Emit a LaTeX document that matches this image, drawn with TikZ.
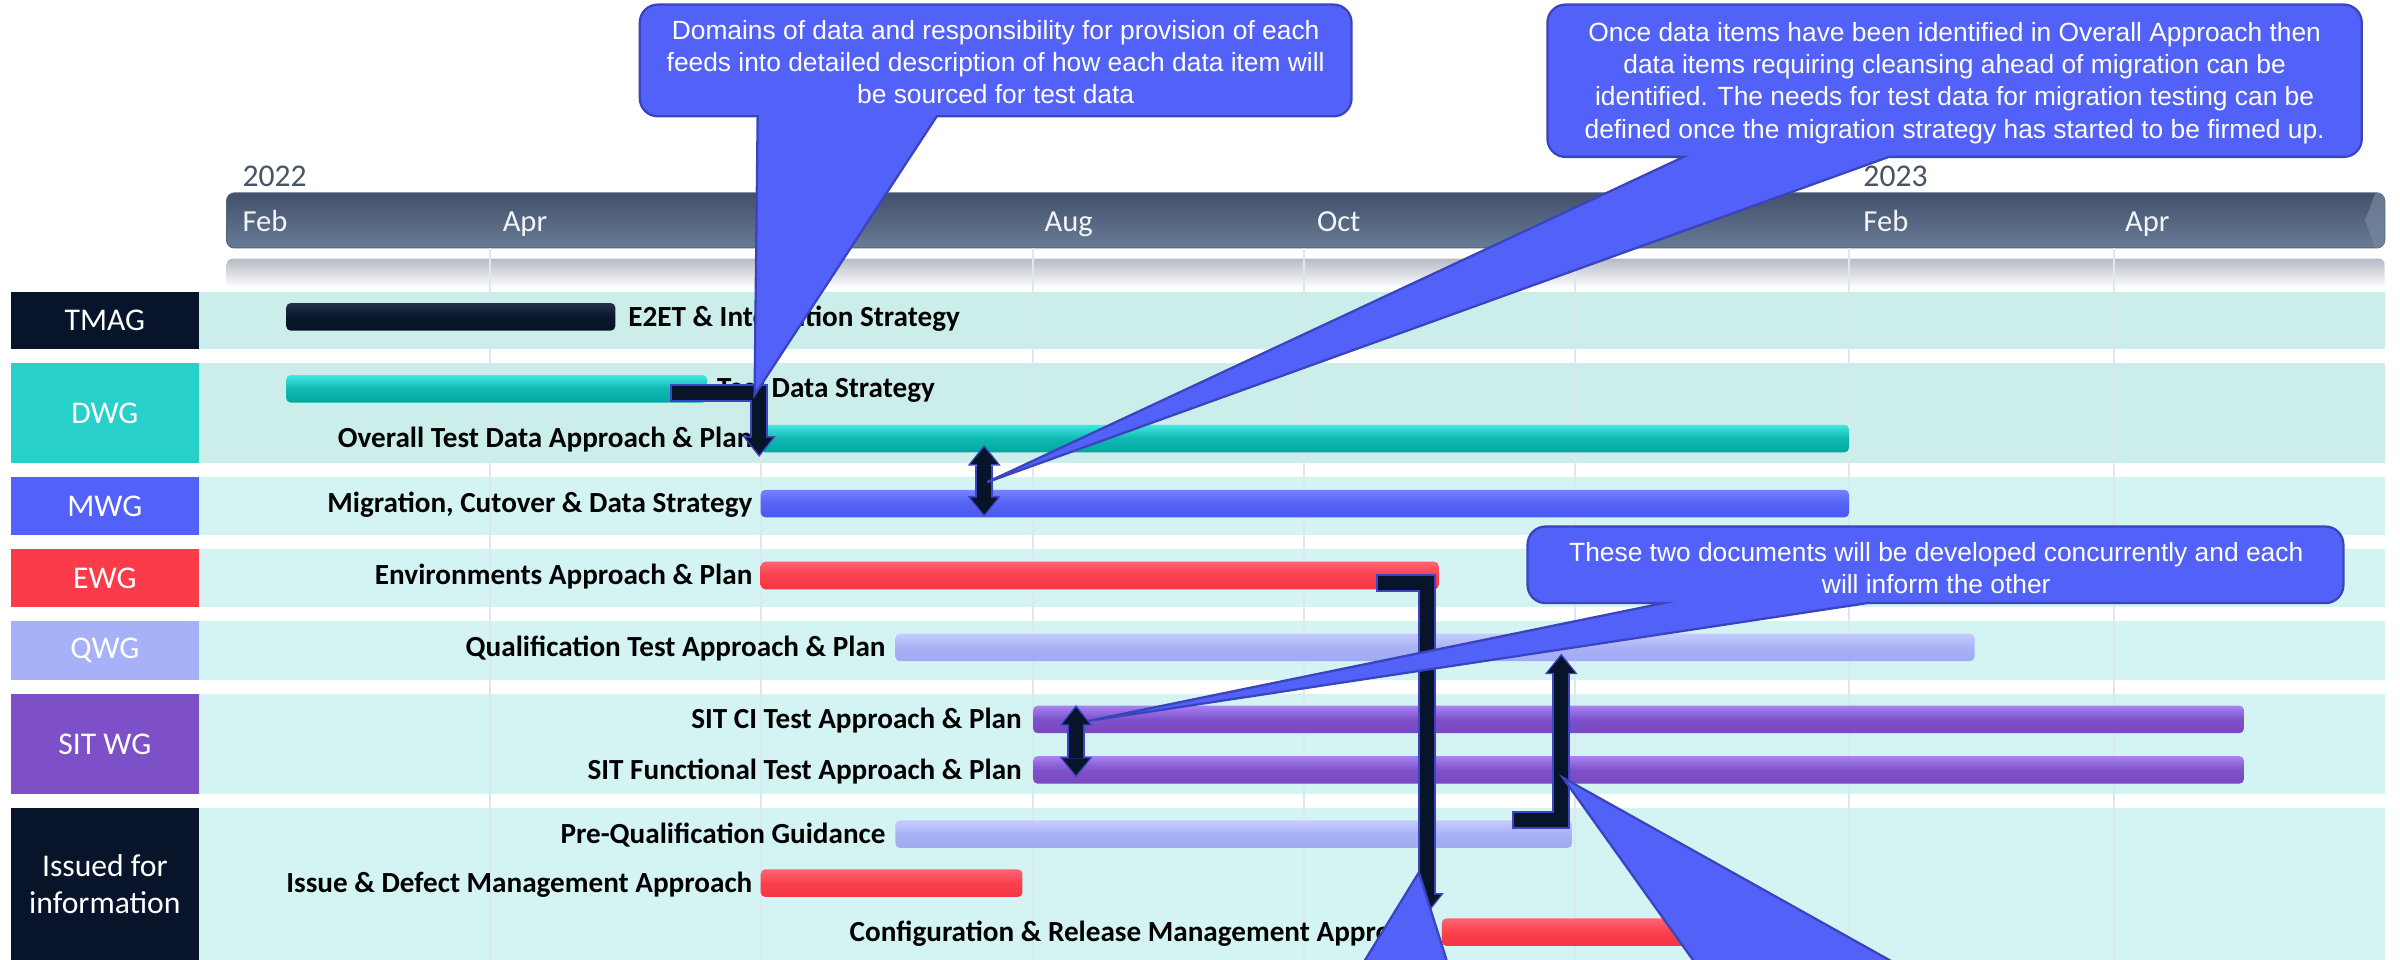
\documentclass[tikz,border=0pt]{standalone}
\usepackage{fontspec}
\setmainfont{Carlito}
\newfontfamily\callfont{Liberation Sans}
\usetikzlibrary{arrows.meta,calc}
\newcommand\uu{0.0153061cm}
\definecolor{navy}{HTML}{08142A}
\definecolor{connb}{HTML}{3C46C4}
\definecolor{callc}{HTML}{5262F9}
\definecolor{callb}{HTML}{3A44BE}
\definecolor{rowA}{HTML}{CBEEEB}
\definecolor{rowB}{HTML}{D3F4F2}
\definecolor{gridc}{HTML}{DCE8EE}
\definecolor{tealc}{HTML}{28D0CA}
\definecolor{bluec}{HTML}{5262F8}
\definecolor{redc}{HTML}{FB3B49}
\definecolor{lavc}{HTML}{A7B1F7}
\definecolor{purc}{HTML}{7D50C8}
\definecolor{hdrtop}{HTML}{43506A}
\definecolor{hdrbot}{HTML}{687B96}
\definecolor{hdredge}{HTML}{56637A}
\definecolor{hdrend}{HTML}{77889F}
\definecolor{stripc}{HTML}{B5BBC6}
\definecolor{yearc}{HTML}{475466}
\definecolor{monthc}{HTML}{F2F5F8}
\definecolor{tealT}{HTML}{40EAE3}\definecolor{tealM}{HTML}{0FB9B1}\definecolor{tealB}{HTML}{00A89F}
\definecolor{blueT}{HTML}{7482FF}\definecolor{blueM}{HTML}{5563F6}\definecolor{blueB}{HTML}{4A58EE}
\definecolor{redT}{HTML}{FF6472}\definecolor{redM}{HTML}{FA3F4D}\definecolor{redB}{HTML}{F33644}
\definecolor{lavT}{HTML}{C6CCFF}\definecolor{lavM}{HTML}{A8B1F5}\definecolor{lavB}{HTML}{A0AAEE}
\definecolor{purT}{HTML}{A882F2}\definecolor{purM}{HTML}{7E51CA}\definecolor{purB}{HTML}{7649C0}
\definecolor{navyT}{HTML}{243046}\definecolor{navyM}{HTML}{0A162C}\definecolor{navyB}{HTML}{061224}
\newcommand\lblfont{\fontsize{8.3}{9.8}\selectfont\bfseries}
\newcommand\grpfont{\fontsize{9}{10.7}\selectfont}
\newcommand\monthfont{\fontsize{8.7}{10}\selectfont}
\newcommand\yearfont{\fontsize{9}{10}\selectfont}
\newcommand\calltextfont{\callfont\fontsize{7.5}{9.15}\selectfont}
\newcommand\callbox[8]{%
 \draw[callout] (#1,{(#3+#4)/2}) [rounded corners=0.18cm] -- (#1,#3) -- (#2,#3) -- (#2,#4) -- ({#6+15},#4) [sharp corners] -- (#6,#4) -- (#7,#8) -- (#5,#4) -- ({#5-15},#4) [rounded corners=0.18cm] -- (#1,#4) -- cycle;}
\tikzset{
  lbl/.style={font=\lblfont, inner sep=0, text=black},
  lblL/.style={lbl, anchor=base east},
  lblR/.style={lbl, anchor=base west},
  grp/.style={text=white, font=\grpfont, inner sep=0, align=center, minimum width={123*\uu}},
  bar/.style={inner sep=0, outer sep=0, minimum height={18*\uu}, rounded corners=0.045cm, anchor=west},
  tealbar/.style={bar, top color=tealT, bottom color=tealB, middle color=tealM},
  bluebar/.style={bar, top color=blueT, bottom color=blueB, middle color=blueM},
  redbar/.style={bar, top color=redT, bottom color=redB, middle color=redM},
  lavbar/.style={bar, top color=lavT, bottom color=lavB, middle color=lavM},
  purbar/.style={bar, top color=purT, bottom color=purB, middle color=purM},
  navybar/.style={bar, top color=navyT, bottom color=navyB, middle color=navyM},
  month/.style={text=monthc, font=\monthfont, inner sep=0, anchor=base west},
  year/.style={text=yearc, font=\yearfont, inner sep=0, anchor=base west},
  connO/.style={draw=connb, line width=0.1776cm, line join=miter},
  connI/.style={draw=navy, line width=0.1378cm, line join=miter},
  tipO/.style={-{Triangle[width=0.329cm,length=0.2066cm,line width=0pt]}},
  tipI/.style={-{Triangle[width=0.2755cm,length=0.168cm,line width=0pt]}},
  dtipO/.style={{Triangle[width=0.329cm,length=0.2066cm,line width=0pt]}-{Triangle[width=0.329cm,length=0.2066cm,line width=0pt]}},
  dtipI/.style={{Triangle[width=0.2755cm,length=0.168cm,line width=0pt]}-{Triangle[width=0.2755cm,length=0.168cm,line width=0pt]}},
  callout/.style={fill=callc, draw=callb, line width=0.65pt, line join=miter},
  calltext/.style={text=white, font=\calltextfont, align=center, inner sep=0},
}
\begin{document}
\begin{tikzpicture}[x=\uu, y=-\uu]
\useasboundingbox (0,0) rectangle (1568,627);
\clip (0,0) rectangle (1568,627);
\fill[white] (0,0) rectangle (1568,627);

% ---------- header ----------
\node[year] (y22) at (158,122) {2022};
\node[year] (y23) at (1217,122) {2023};
\shade[top color=hdrtop, bottom color=hdrbot, draw=hdredge, line width=0.3pt, rounded corners=0.08cm] (148,126) rectangle (1558,162);
\begin{scope}
  \clip[rounded corners=0.08cm] (148,126) rectangle (1558,162);
  \fill[hdrend, opacity=0.7] (1552,126) -- (1545,144) -- (1552,162) -- (1560,162) -- (1560,126) -- cycle;
\end{scope}
\node[month] (m1) at (158,151.5) {Feb};
\node[month] (m2) at (328,151.5) {Apr};
\node[month] (m3) at (682,151.5) {Aug};
\node[month] (m4) at (860,151.5) {Oct};
\node[month] (m5) at (1217,151.5) {Feb};
\node[month] (m6) at (1388,151.5) {Apr};
\shade[top color=stripc, bottom color=white, rounded corners=0.06cm] (148,169) rectangle (1558,188);

% ---------- rows ----------
\fill[rowA] (7,190.5) rectangle (1558,228);
\fill[rowA] (7,237) rectangle (1558,302.5);
\fill[rowB] (7,311.5) rectangle (1558,349.5);
\fill[rowB] (7,359) rectangle (1558,396.5);
\fill[rowB] (7,406) rectangle (1558,444);
\fill[rowB] (7,453.5) rectangle (1558,519);
\fill[rowB] (7,528) rectangle (1558,627);
\foreach \gx in {320,497.5,675,852,1029,1208,1381}
  \draw[gridc, line width=0.02cm] (\gx,162) -- (\gx,627);

% ---------- group boxes ----------
\node[grp, fill=navy,  minimum height={37.5*\uu}] (gTMAG) at (68.5,209.25) {TMAG};
\node[grp, fill=tealc, minimum height={65.5*\uu}] (gDWG)  at (68.5,269.75) {DWG};
\node[grp, fill=bluec, minimum height={38*\uu}]   (gMWG)  at (68.5,330.5) {MWG};
\node[grp, fill=redc,  minimum height={37.5*\uu}] (gEWG)  at (68.5,377.75) {EWG};
\node[grp, fill=lavc,  minimum height={38*\uu}]   (gQWG)  at (68.5,425) {QWG};
\node[grp, fill=purc,  minimum height={65.5*\uu}] (gSIT)  at (68.5,486.25) {SIT WG};
\node[grp, fill=navy,  minimum height={99*\uu}]   (gISS)  at (68.5,577.5) {Issued for\\information};

% ---------- bars ----------
\node[navybar, minimum width={215*\uu}] (e2)    at (187,207) {};
\node[tealbar, minimum width={275*\uu}] (tds)   at (187,254) {};
\node[tealbar, minimum width={711*\uu}] (ov)    at (497,286.5) {};
\node[bluebar, minimum width={711*\uu}] (mig)   at (497,329) {};
\node[redbar,  minimum width={443*\uu}] (env)   at (497,376) {};
\node[lavbar,  minimum width={705*\uu}] (qual)  at (585,423) {};
\node[purbar,  minimum width={791*\uu}] (sitci) at (675,470) {};
\node[purbar,  minimum width={791*\uu}] (sitfn) at (675,503) {};
\node[lavbar,  minimum width={442*\uu}] (pq)    at (585,545) {};
\node[redbar,  minimum width={171*\uu}] (idm)   at (497,577) {};
\node[redbar,  minimum width={220*\uu}] (cfg)   at (942,609) {};

% ---------- labels ----------
\node[lblR] (tE2)  at ($(e2.east)+(8,6)$) {E2ET \& Integration Strategy};
\node[lblR] (tTDS) at ($(tds.east)+(6,6)$) {Test Data Strategy};
\node[lblL] (tOV)  at ($(ov.west)+(-5,6)$) {Overall Test Data Approach \& Plan};
\node[lblL] (tMIG) at ($(mig.west)+(-5,6)$) {Migration, Cutover \& Data Strategy};
\node[lblL] (tENV) at ($(env.west)+(-5,6)$) {Environments Approach \& Plan};
\node[lblL] (tQ)   at ($(qual.west)+(-6,6)$) {Qualification Test Approach \& Plan};
\node[lblL] (tSC)  at ($(sitci.west)+(-7,6)$) {SIT CI Test Approach \& Plan};
\node[lblL] (tSF)  at ($(sitfn.west)+(-7,6)$) {SIT Functional Test Approach \& Plan};
\node[lblL] (tPQ)  at ($(pq.west)+(-6,6)$) {Pre-Qualification Guidance};
\node[lblL] (tIDM) at ($(idm.west)+(-5,6)$) {Issue \& Defect Management Approach};
\node[lblL] (tCFG) at ($(cfg.west)+(-5,6)$) {Configuration \& Release Management Approach};

% ---------- connectors ----------
\coordinate (c1s) at ($(tds.east)+(-23,3)$);
\coordinate (c1t) at ($(ov.west)+(-1,12)$);
\draw[connO, tipO, shorten <=-0.02cm] (c1s) -| (c1t);
\draw[connI, tipI, shorten >=0.0245cm] (c1s) -| (c1t);

\coordinate (c2a) at ($(ov.west)+(146,4.2)$);
\coordinate (c2b) at ($(mig.west)+(146,8.7)$);
\draw[connO, dtipO] (c2a) -- (c2b);
\draw[connI, dtipI, shorten <=0.0245cm, shorten >=0.0245cm] (c2a) -- (c2b);

\coordinate (c3s) at ($(env.east)+(-40,5)$);
\coordinate (c3t) at ($(cfg.west)+(-9.5,-12)$);
\draw[connO, tipO, shorten <=-0.02cm] (c3s) -| (c3t);
\draw[connI, tipI, shorten >=0.0245cm] (c3s) -| (c3t);

\coordinate (c4a) at ($(sitci.west)+(28,-9.4)$);
\coordinate (c4b) at ($(sitfn.west)+(28,5)$);
\draw[connO, dtipO] (c4a) -- (c4b);
\draw[connI, dtipI, shorten <=0.0245cm, shorten >=0.0245cm] (c4a) -- (c4b);

\coordinate (c5s) at ($(pq.east)+(-38,-9.5)$);
\coordinate (c5t) at ($(qual.west)+(435,4)$);
\draw[connO, tipO, shorten <=-0.02cm] (c5s) -| (c5t);
\draw[connI, tipI, shorten >=0.0245cm] (c5s) -| (c5t);

% ---------- callouts ----------
\callbox{418}{883}{3}{76}{495}{612}{493}{258}
\callbox{1011}{1543}{3}{102.5}{1100}{1234}{645}{315}
\callbox{998}{1531}{344}{394}{1087}{1220}{711}{471}
\draw[callout] (927,570) -- (871.7,660) -- (955.4,660) -- cycle;
\draw[callout] (1021,508) -- (1129.5,660) -- (1293,660) -- cycle;

\node[calltext] (tA) at (650.5,40.7) {Domains of data and responsibility for provision of each\\feeds into detailed description of how each data item will\\be sourced for test data};
\node[calltext] (tB) at (1277,54.2) {Once data items have been identified in Overall Approach then\\data items requiring cleansing ahead of migration can be\\identified. The needs for test data for migration testing can be\\defined once the migration strategy has started to be firmed up.};
\node[calltext] (tC) at (1265,371) {These two documents will be developed concurrently and each\\will inform the other};
\end{tikzpicture}
\end{document}
